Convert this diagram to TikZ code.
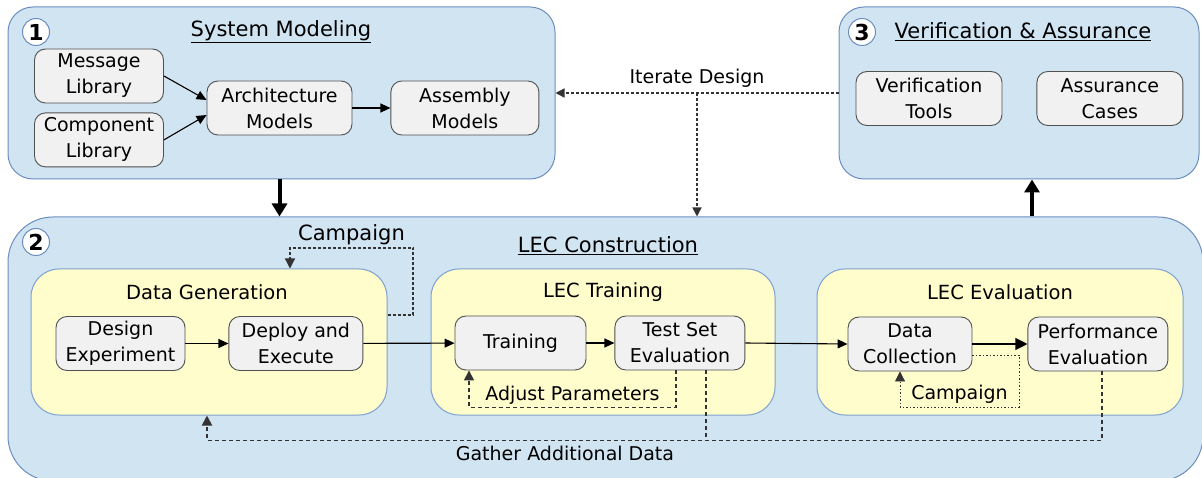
\documentclass[tikz,border=0pt]{standalone}
\usepackage{fontspec}
\setmainfont{DejaVu Sans}
\usetikzlibrary{positioning}
\usetikzlibrary{arrows.meta}
\definecolor{frameblue}{HTML}{D0E4F2}
\definecolor{frameline}{HTML}{6C8EBF}
\definecolor{stageyellow}{HTML}{FFFDCC}
\definecolor{stageline}{HTML}{7EA1CF}
\definecolor{boxgrey}{HTML}{F1F1F1}
\definecolor{boxline}{HTML}{505050}
\definecolor{dashgrey}{HTML}{333333}
\tikzset{node distance=40pt,
    frame/.style={
        draw=frameline,
        fill=frameblue,
        line width=1pt,
        rounded corners=25pt},
    stage/.style={
        draw=stageline,
        fill=stageyellow,
        line width=1pt,
        rounded corners=28pt,
        minimum width=356pt,
        minimum height=146pt},
    task/.style={
        draw=boxline,
        fill=boxgrey,
        line width=0.9pt,
        rounded corners=11pt,
        align=center,
        inner sep=2pt,
        minimum height=54pt,
        font=\fontsize{19}{26}\selectfont},
    heading/.style={
        font=\fontsize{21}{25}\selectfont},
    stagetitle/.style={
        font=\fontsize{19.5}{24}\selectfont},
    number/.style={
        circle,
        draw=frameline,
        fill=white,
        line width=1pt,
        inner sep=0pt,
        minimum size=27pt,
        font=\fontsize{22}{22}\bfseries\selectfont},
    flow/.style={
        draw,
        line width=1.1pt,
        -{Triangle[width=9pt,length=10pt]}},
    phase/.style={
        draw,
        line width=4pt,
        -{Triangle[width=15pt,length=13pt]}},
    iterate/.style={
        draw=dashgrey,
        line width=1.4pt,
        dash pattern=on 3pt off 2pt,
        -{Triangle[width=9pt,length=9pt]}},
    loopback/.style={
        draw=dashgrey,
        line width=1.5pt,
        dash pattern=on 4pt off 3pt,
        -{Triangle[width=10pt,length=10pt]}},
    fineloop/.style={
        draw=dashgrey,
        line width=0.9pt,
        dash pattern=on 1.5pt off 2pt,
        -{Triangle[width=10pt,length=10pt]}},
    looplabel/.style={
        font=\fontsize{19}{23}\selectfont}}

\begin{document}
\begin{tikzpicture}[x=1pt,y=-1pt]
    \useasboundingbox (0,0) rectangle (1202,478);

    \node[frame,minimum width=547pt,minimum height=172pt] (sysmod) at (281.5,93) {};
    \node[frame,minimum width=360pt,minimum height=172pt] (verif) at (1019,93) {};
    \node[frame,rounded corners=45pt,minimum width=1195pt,minimum height=264pt] (lec) at (605.5,349) {};

    \node[number] (n1) at (36,32) {1};
    \node[heading] (smtitle) at (281,32) {\underline{System Modeling}};
    \node[number] (n3) at (862,32) {3};
    \node[heading] (vatitle) at (1023,32) {\underline{Verification \& Assurance}};
    \node[number] (n2) at (36,242) {2};
    \node[heading] (lectitle) at (608,246) {\underline{LEC Construction}};

    \node[task,minimum width=129pt] (msg) at (99,76) {Message\\Library};
    \node[task,minimum width=129pt,below=9pt of msg] (comp) {Component\\Library};
    \node[task,minimum width=145pt] (arch) at (279.5,108) {Architecture\\Models};
    \node[task,minimum width=148pt,right=38pt of arch] (asm) {Assembly\\Models};

    \node[task,minimum width=146pt] (vt) at (929,98.5) {Verification\\Tools};
    \node[task,minimum width=146pt,right=34pt of vt] (ac) {Assurance\\Cases};

    \node[stage] (datagen) at (209,342) {};
    \node[stage,minimum width=344pt] (lectrain) at (603,342) {};
    \node[stage,minimum width=366pt] (leceval) at (1000,342) {};
    \node[stagetitle] (dgtitle) at (207,292) {Data Generation};
    \node[stagetitle] (lttitle) at (603,292) {LEC Training};
    \node[stagetitle] (letitle) at (1000,292) {LEC Evaluation};

    \node[task,minimum width=129pt] (design) at (120.5,343.5) {Design\\Experiment};
    \node[task,minimum width=134pt,right=43pt of design] (deploy) {Deploy and\\Execute};
    \node[task,minimum width=131pt] (train) at (520.5,343) {Training};
    \node[task,minimum width=130pt,right=28pt of train] (test) {Test Set\\Evaluation};
    \node[task,minimum width=124pt] (dcol) at (910,344) {Data\\Collection};
    \node[task,minimum width=140pt,right=55pt of dcol] (perf) {Performance\\Evaluation};

    \draw[flow] (msg.east) -- ([yshift=8pt]arch.west);
    \draw[flow] (comp.east) -- ([yshift=-7pt]arch.west);
    \draw[flow] (arch) -- (asm);
    \draw[flow] (design) -- (deploy);
    \draw[flow] (deploy) -- (train);
    \draw[flow] (train) -- (test);
    \draw[flow] (test.east) -- (dcol.west);
    \draw[flow,-{Triangle[width=12pt,length=12pt]}] (dcol) -- (perf);

    \draw[phase] ([xshift=-2pt]sysmod.south) -- ([xshift=-2pt]sysmod.south |- lec.north);
    \draw[phase] ([xshift=13pt]verif.south |- lec.north) -- ([xshift=13pt]verif.south);

    \draw[iterate] (verif.west) -- node[above=2pt,looplabel] {Iterate Design} coordinate[pos=0.5] (itbr) (sysmod.east);
    \draw[iterate] (itbr) -- (itbr |- lec.north);

    \draw[loopback,line width=1.2pt,dash pattern=on 3pt off 2pt] ([yshift=27pt]datagen.east) -| (413,248) -| node[pos=0.25,above=-1pt,heading] {Campaign} ([xshift=81pt]datagen.north);
    \draw[loopback] ([xshift=-4pt]test.south) -- ++(0,37) -| node[pos=0.25,above=-1pt,looplabel] {Adjust Parameters} ([xshift=-51.5pt]train.south);
    \draw[fineloop] ([yshift=-11pt]dcol.east) -| (1019,407) -| node[pos=0.25,above=0pt,looplabel] {Campaign} ([xshift=-10pt]dcol.south);

    \draw[loopback,line width=1.8pt] ([xshift=4pt]perf.south) -- ++(0,69) -| node[pos=0.3,below=1pt,looplabel] {Gather Additional Data} ([xshift=-2pt]datagen.south);
    \draw[loopback,line width=1.8pt,-] ([xshift=26pt]test.south) -- ++(0,70);
\end{tikzpicture}
\end{document}
